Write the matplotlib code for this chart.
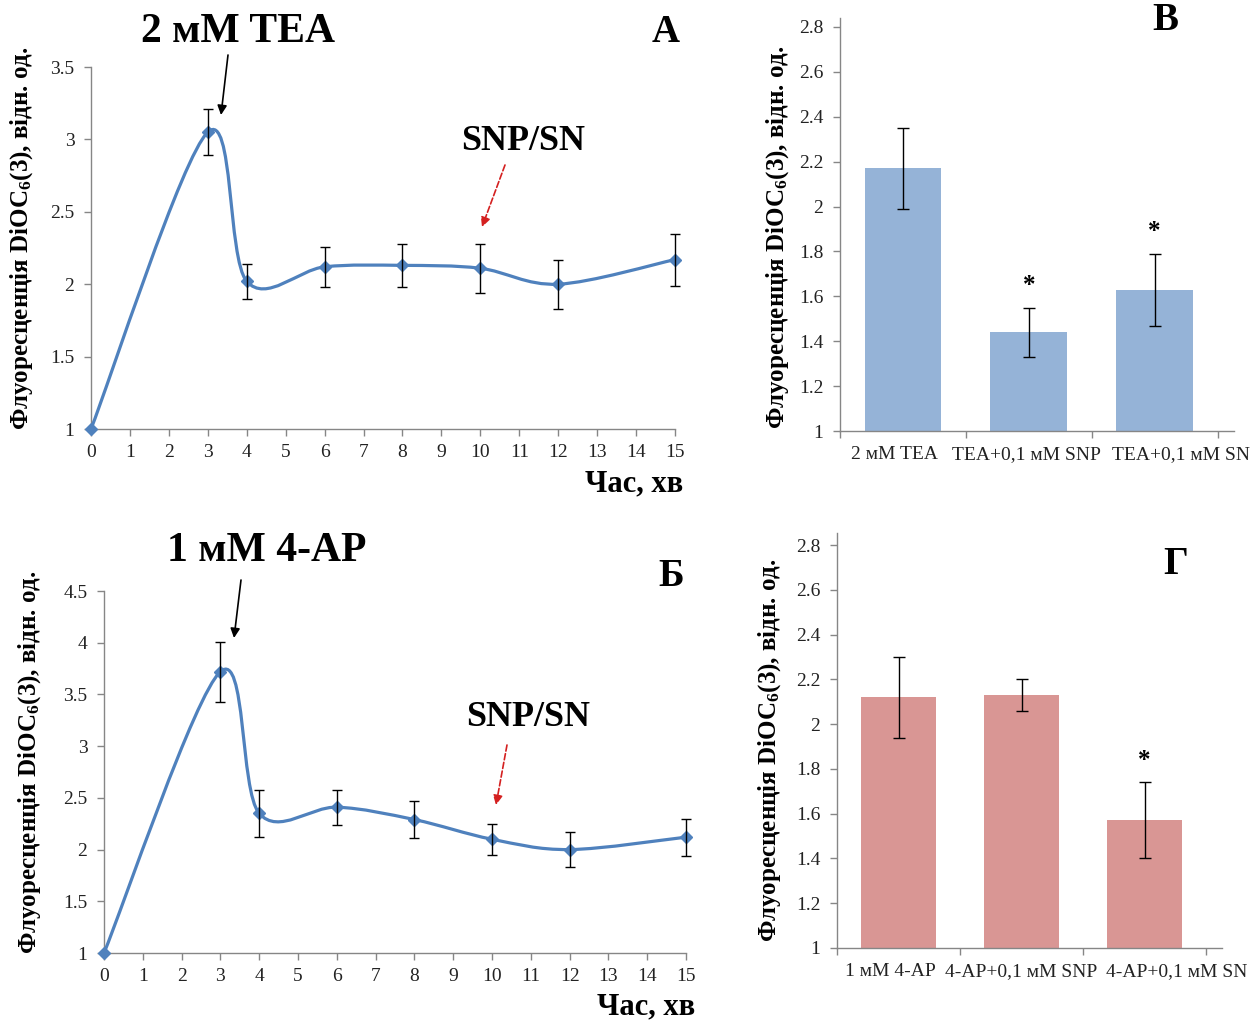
import matplotlib
matplotlib.use("Agg")
import matplotlib.pyplot as plt
import matplotlib.transforms as mtransforms
import numpy as np
from matplotlib.path import Path
from matplotlib.patches import PathPatch, FancyArrowPatch
from matplotlib.ticker import FuncFormatter

plt.rcParams["font.family"] = ["Liberation Serif", "DejaVu Serif"]
plt.rcParams["mathtext.fontset"] = "custom"
plt.rcParams["mathtext.rm"] = "Liberation Serif"
plt.rcParams["mathtext.bf"] = "Liberation Serif:bold"
plt.rcParams["mathtext.it"] = "Liberation Serif:italic"

# --- дані ---
time_min = [0, 3, 4, 6, 8, 10, 12, 15]
tea_curve = [1.0, 3.05, 2.02, 2.12, 2.13, 2.11, 2.00, 2.17]
tea_curve_err = [0.0, 0.16, 0.12, 0.14, 0.15, 0.17, 0.17, 0.18]
ap_curve = [1.0, 3.72, 2.35, 2.41, 2.29, 2.10, 2.00, 2.12]
ap_curve_err = [0.0, 0.29, 0.23, 0.17, 0.18, 0.15, 0.17, 0.18]

tea_groups = ["2 мМ TEA", "TEA+0,1 мМ SNP", "TEA+0,1 мМ SN"]
tea_bars = [2.17, 1.44, 1.63]
tea_bars_err = [0.18, 0.11, 0.16]
tea_signif = [False, True, True]

ap_groups = ["1 мМ 4-AP", "4-AP+0,1 мМ SNP", "4-AP+0,1 мМ SN"]
ap_bars = [2.12, 2.13, 1.57]
ap_bars_err = [0.18, 0.07, 0.17]
ap_signif = [False, False, True]

LINE_BLUE = "#4F81BD"
BAR_BLUE = "#95B3D7"
BAR_RED = "#D99694"
AXIS_GRAY = "#868686"
YLABEL = "Флуоресценція DiOC$_{\\mathbf{6}}$(3), відн. од."

W, H = 1253, 1023
fig = plt.figure(figsize=(W / 100, H / 100), dpi=100)


def px_axes(x0, y0, x1, y1):
    # прямокутник у пікселях (відлік зверху) -> частки фігури
    return fig.add_axes([x0 / W, 1 - y1 / H, (x1 - x0) / W, (y1 - y0) / H])


def smooth_path(xs, ys):
    # згладжена лінія як у Excel (Catmull-Rom -> кубічні Безьє)
    pts = np.column_stack([xs, ys]).astype(float)
    n = len(pts)
    verts = [pts[0]]
    codes = [Path.MOVETO]
    for i in range(n - 1):
        p0 = pts[max(i - 1, 0)]
        p1 = pts[i]
        p2 = pts[i + 1]
        p3 = pts[min(i + 2, n - 1)]
        verts += [p1 + (p2 - p0) / 6.0, p2 - (p3 - p1) / 6.0, p2]
        codes += [Path.CURVE4] * 3
    return Path(verts, codes)


def style_axes(ax):
    for s in ("top", "right"):
        ax.spines[s].set_visible(False)
    for s in ("left", "bottom"):
        ax.spines[s].set_color(AXIS_GRAY)
        ax.spines[s].set_linewidth(1.0)
    ax.tick_params(direction="out", length=5, width=1, color=AXIS_GRAY,
                   labelsize=14, labelcolor="#222222")
    ax.tick_params(axis="y", pad=7)
    ax.yaxis.set_major_formatter(FuncFormatter(lambda v, p: f"{v:g}"))


def unclip(container):
    for art in container.get_children():
        art.set_clip_on(False)


def line_panel(ax, ys, err, ymax, yticks):
    ax.add_patch(PathPatch(smooth_path(time_min, ys), fill=False,
                           edgecolor=LINE_BLUE, lw=2.3, zorder=3))
    ax.plot(time_min, ys, ls="none", marker="D", ms=6.5, color=LINE_BLUE,
            clip_on=False, zorder=4)
    eb = ax.errorbar(time_min[1:], ys[1:], yerr=err[1:], fmt="none", ecolor="black",
                     elinewidth=1, capsize=3.5, capthick=1, zorder=5)
    unclip(eb)
    ax.set_xlim(0, 15)
    ax.set_ylim(1, ymax)
    ax.set_xticks(range(16))
    ax.set_yticks(yticks)
    style_axes(ax)
    ax.tick_params(axis="x", pad=6)


def bar_panel(ax, groups, vals, err, signif, color, ymax, label_shift):
    pos = np.arange(len(groups))
    ax.bar(pos, vals, width=0.61, color=color, zorder=2)
    ax.errorbar(pos, vals, yerr=err, fmt="none", ecolor="black",
                elinewidth=1, capsize=4, capthick=1, zorder=3)
    for i, flag in enumerate(signif):
        if flag:
            ax.annotate("*", (pos[i], vals[i] + err[i]), xytext=(0, 11),
                        textcoords="offset points", ha="center", va="baseline",
                        fontsize=18, fontweight="bold")
    ax.set_xlim(-0.5, len(groups) - 0.37)
    ax.set_ylim(1, ymax)
    ax.set_yticks(np.arange(1.0, 2.81, 0.2))
    ax.set_xticks(np.arange(-0.5, len(groups), 1.0))
    ax.set_xticklabels([])
    style_axes(ax)
    # підписи категорій зсунуті, як в Excel, щоб не налазили
    trans = mtransforms.blended_transform_factory(ax.transData, ax.transAxes)
    for i, g in enumerate(groups):
        ax.text(pos[i] + label_shift[i], -0.036, g, transform=trans, ha="center",
                va="top", fontsize=14, color="#222222")


# А
axA = px_axes(91, 67, 675, 429)
line_panel(axA, tea_curve, tea_curve_err, 3.5, [1, 1.5, 2, 2.5, 3, 3.5])
# Б
axB = px_axes(104, 591, 686, 953)
line_panel(axB, ap_curve, ap_curve_err, 4.5, [1, 1.5, 2, 2.5, 3, 3.5, 4, 4.5])
# В
axC = px_axes(840, 18, 1234, 431)
bar_panel(axC, tea_groups, tea_bars, tea_bars_err, tea_signif, BAR_BLUE, 2.84,
          [-0.07, -0.02, 0.21])
# Г
axD = px_axes(837, 533, 1222, 948)
bar_panel(axD, ap_groups, ap_bars, ap_bars_err, ap_signif, BAR_RED, 2.854,
          [-0.07, 0.0, 0.26])


def ftext(x, y, s, **kw):
    fig.text(x / W, 1 - y / H, s, **kw)


def arrow(x0, y0, x1, y1, color="black", ls="-"):
    fig.add_artist(FancyArrowPatch((x0 / W, 1 - y0 / H), (x1 / W, 1 - y1 / H),
                                   transform=fig.transFigure, arrowstyle="-|>",
                                   mutation_scale=14, color=color, lw=1.2,
                                   linestyle=ls, shrinkA=0, shrinkB=0))


bold = dict(fontweight="bold", ha="center", va="center")
ftext(238, 32, "2 мМ TEA", fontsize=30, **bold)
ftext(666, 32, "А", fontsize=28, **bold)
ftext(523, 141, "SNP/SN", fontsize=26, **bold)
ftext(267, 551, "1 мМ 4-AP", fontsize=30, **bold)
ftext(671, 577, "Б", fontsize=28, **bold)
ftext(528, 717, "SNP/SN", fontsize=26, **bold)
ftext(1165, 20, "В", fontsize=28, **bold)
ftext(1176, 565, "Г", fontsize=28, **bold)

ftext(683, 484, "Час, хв", fontsize=22, fontweight="bold", ha="right", va="center")
ftext(695, 1007, "Час, хв", fontsize=22, fontweight="bold", ha="right", va="center")

for x, y in [(22, 238), (30, 762), (778, 237), (770, 750)]:
    ftext(x, y, YLABEL, fontsize=18, fontweight="bold", rotation=90,
          ha="center", va="center")

arrow(228, 55, 221, 115)
arrow(505, 165, 482, 227, color="#d42020", ls="--")
arrow(241, 580, 234, 638)
arrow(507, 745, 496, 805, color="#d42020", ls="--")

fig.savefig("out.png", dpi=100)
